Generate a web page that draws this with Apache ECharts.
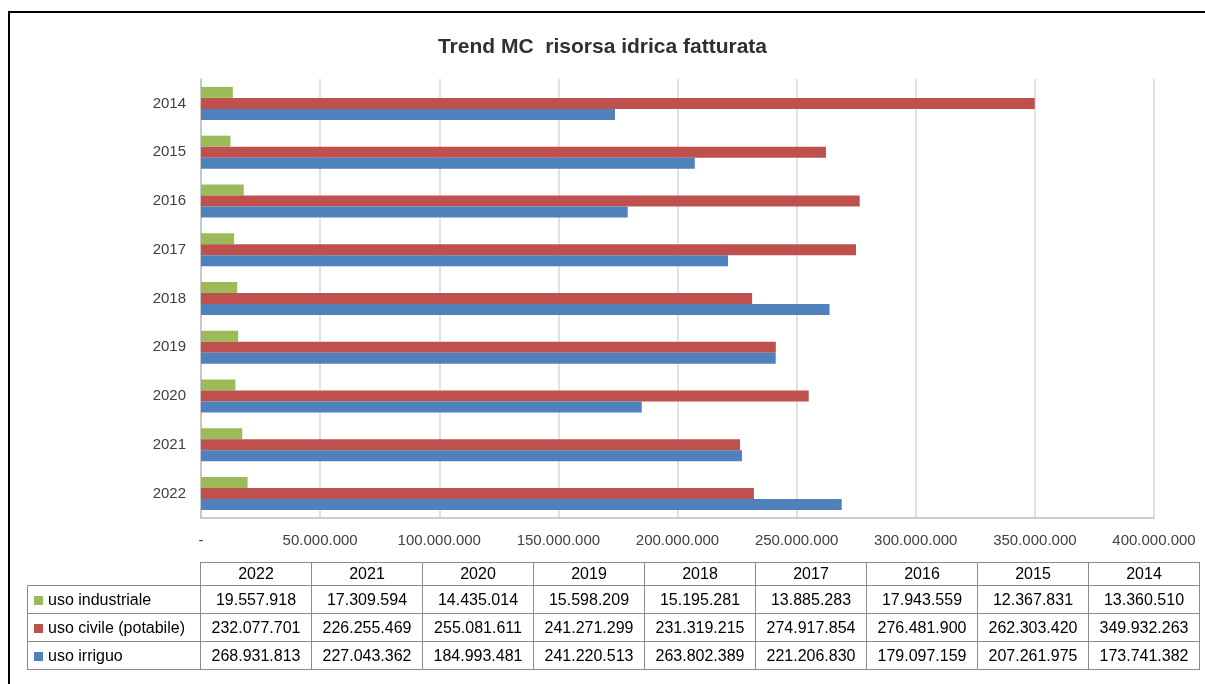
<!DOCTYPE html>
<html>
<head>
<meta charset="utf-8">
<script src="https://cdn.jsdelivr.net/npm/echarts@6/dist/echarts.min.js"></script>
<style>
    html, body { margin: 0; padding: 0; background: #fff; }
    #wrap { position: relative; width: 1205px; height: 684px; overflow: hidden; }
    #frame { position: absolute; left: 8px; top: 11px; width: 1200px; height: 680px;
             border-top: 2px solid #000; border-left: 2px solid #000; }
    #main { position: absolute; left: 0; top: 0; width: 1205px; height: 684px; }
    #tbl { position: absolute; left: 27px; top: 562px; width: 1172px; border-collapse: collapse;
           table-layout: fixed;
           font-family: "Liberation Sans", Arial, sans-serif; font-size: 16px; color: #000; }
    #tbl td { border: 1.5px solid #8c8c8c; text-align: center; padding: 0; overflow: hidden; white-space: nowrap; }
    #tbl tr.head td { height: 22px; }
    #tbl tr.row td { height: 27px; }
    #tbl td.name { text-align: left; padding-left: 6px; }
    #tbl td.blank { border-top: none; border-left: none; }
    .key { display: inline-block; width: 9px; height: 9px; margin-right: 5px; }
</style>
</head>
<body>
<div id="wrap">
    <div id="main"></div>
    <div id="frame"></div>
    <table id="tbl"></table>
</div>
<script>
// anni (dal basso verso l'alto nel grafico, ordine della tabella)
var years = ['2022', '2021', '2020', '2019', '2018', '2017', '2016', '2015', '2014'];
var usoIndustriale = [19557918, 17309594, 14435014, 15598209, 15195281, 13885283, 17943559, 12367831, 13360510];
var usoCivile = [232077701, 226255469, 255081611, 241271299, 231319215, 274917854, 276481900, 262303420, 349932263];
var usoIrriguo = [268931813, 227043362, 184993481, 241220513, 263802389, 221206830, 179097159, 207261975, 173741382];
var seriesNames = ['uso industriale', 'uso civile (potabile)', 'uso irriguo'];
var colors = ['#9BBB59', '#C0504D', '#4F81BD'];

function fmt(n) {
    return String(n).replace(/\B(?=(\d{3})+(?!\d))/g, '.');
}

window.onload = function () {
    var myChart = echarts.init(document.getElementById('main'));
    var fontFam = '"Liberation Sans", Arial, sans-serif';
    var seriesData = [usoIndustriale, usoCivile, usoIrriguo];

    var option = {
        animation: false,
        title: {
            text: 'Trend MC  risorsa idrica fatturata',
            left: 'center',
            top: 32,
            textStyle: { fontSize: 21, fontWeight: 'bold', color: '#303030', fontFamily: fontFam }
        },
        grid: { left: 201, right: 51, top: 79, bottom: 166 },
        xAxis: {
            type: 'value',
            min: 0,
            max: 400000000,
            interval: 50000000,
            axisLine: { show: true, lineStyle: { color: '#bfbfbf', width: 1.5 } },
            axisTick: { show: false },
            splitLine: { lineStyle: { color: '#d9d9d9', width: 1.5 } },
            axisLabel: {
                margin: 15,
                color: '#404040',
                fontSize: 15,
                fontFamily: fontFam,
                formatter: function (v) { return v === 0 ? '-' : fmt(v); }
            }
        },
        yAxis: {
            type: 'category',
            data: years,
            axisLine: { show: true, lineStyle: { color: '#bfbfbf', width: 1.5 } },
            axisTick: { show: false },
            axisLabel: { margin: 15, color: '#404040', fontSize: 15, fontFamily: fontFam }
        },
        series: seriesData.map(function (d, i) {
            return {
                name: seriesNames[i],
                type: 'bar',
                data: d,
                barWidth: 11,
                barGap: '0%',
                itemStyle: { color: colors[i] }
            };
        })
    };

    myChart.setOption(option);

    // tabella dati sotto il grafico
    var tbl = document.getElementById('tbl');
    var html = '<colgroup><col style="width:173px">';
    years.forEach(function () { html += '<col style="width:111px">'; });
    html += '</colgroup><tr class="head"><td class="blank name"></td>';
    years.forEach(function (y) { html += '<td>' + y + '</td>'; });
    html += '</tr>';
    seriesData.forEach(function (d, i) {
        html += '<tr class="row"><td class="name"><span class="key" style="background:' + colors[i] + '"></span>' + seriesNames[i] + '</td>';
        d.forEach(function (v) { html += '<td>' + fmt(v) + '</td>'; });
        html += '</tr>';
    });
    tbl.innerHTML = html;
};
</script>
</body>
</html>
